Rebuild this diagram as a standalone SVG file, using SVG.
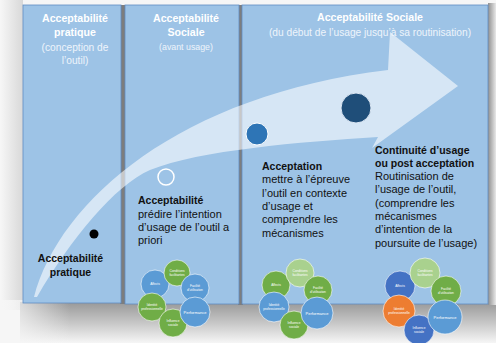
<svg xmlns="http://www.w3.org/2000/svg" width="496" height="343" viewBox="0 0 496 343">
<defs>
<linearGradient id="floor" x1="0" y1="0" x2="0" y2="1">
<stop offset="0" stop-color="#989898"/>
<stop offset="0.5" stop-color="#c6c6c6"/>
<stop offset="1" stop-color="#f6f6f6"/>
</linearGradient>
<linearGradient id="fadeL" x1="0" y1="0" x2="1" y2="0">
<stop offset="0" stop-color="#f6f6f6" stop-opacity="1"/>
<stop offset="1" stop-color="#f6f6f6" stop-opacity="0"/>
</linearGradient>
<linearGradient id="shR" x1="0" y1="0" x2="1" y2="0">
<stop offset="0" stop-color="#8f8f8f"/>
<stop offset="1" stop-color="#e8e8e8"/>
</linearGradient>
<linearGradient id="shL" x1="0" y1="0" x2="1" y2="0">
<stop offset="0" stop-color="#f7f7f7"/>
<stop offset="1" stop-color="#d8d8d8"/>
</linearGradient>
</defs>
<style>
.panel{fill:#9dc3e6;stroke:#5f8cc2;stroke-width:0.8}
.gap{fill:#7d7d7d}
.hd{font-family:"Liberation Sans",Arial,sans-serif;font-weight:bold;font-size:10.6px;fill:#ffffff;text-anchor:middle}
.sub{font-family:"Liberation Sans",Arial,sans-serif;font-size:10.2px;fill:#eef4fb;text-anchor:middle}
.b{font-family:"Liberation Sans",Arial,sans-serif;font-weight:bold;font-size:10.5px;fill:#111}
.t{font-family:"Liberation Sans",Arial,sans-serif;font-size:11px;fill:#111}
.c{stroke:#ffffff;stroke-width:0.6}
.g{fill:#70ad47}
.lg{fill:#a9d18e}
.bl{fill:#5b9bd5}
.db{fill:#4472c4}
.or{fill:#ed7d31}
.cl{font-family:"Liberation Sans",Arial,sans-serif;font-size:3.2px;fill:#ffffff;text-anchor:middle}
.cp{font-family:"Liberation Sans",Arial,sans-serif;font-size:4px;fill:#ffffff;text-anchor:middle}
</style>
<rect width="496" height="343" fill="#f6f6f6"/>
<rect x="0" y="0" width="23" height="310" fill="url(#shL)"/>
<rect x="20" y="302" width="476" height="41" fill="url(#floor)"/>
<rect x="0" y="300" width="70" height="43" fill="url(#fadeL)"/>
<rect x="488" y="3" width="8" height="302" fill="url(#shR)"/>
<g id="backdrop">
<rect class="gap" x="120" y="5" width="6" height="299"/>
<rect class="gap" x="238" y="5" width="5" height="300"/>
</g>
<g id="panel1"><rect class="panel" x="23" y="5" width="98" height="298"/></g>
<g id="panel2"><rect class="panel" x="125" y="5" width="114" height="299"/></g>
<g id="panel3"><rect class="panel" x="242" y="5" width="246" height="299"/></g>
<g id="connectors">
<path d="M34,297 C60,200 180,95 388,70 L390,32 L458,86 L372,148 L378,137 C300,142 200,150 150,170 C115,185 70,240 37,297 Z" fill="#ffffff" fill-opacity="0.58"/>
</g>
<g id="headers">
<text class="hd" x="75" y="22">Acceptabilité</text>
<text class="hd" x="75" y="36">pratique</text>
<text class="sub" x="75" y="51">(conception de</text>
<text class="sub" x="75" y="64">l’outil)</text>
<text class="hd" x="186" y="22">Acceptabilité</text>
<text class="hd" x="186" y="36">Sociale</text>
<text class="sub" x="186" y="50" style="font-size:8.8px">(avant usage)</text>
<text class="hd" x="370" y="21">Acceptabilité Sociale</text>
<text class="sub" x="370" y="35.5">(du début de l’usage jusqu’à sa routinisation)</text>
</g>
<g id="dot1"><circle cx="94" cy="234" r="4.5" fill="#000000"/></g>
<g id="dot2"><circle cx="166" cy="177" r="8" fill="#9dc3e6" stroke="#ffffff" stroke-width="1.5"/></g>
<g id="dot3"><circle cx="257" cy="134" r="11" fill="#2e75b6" stroke="#ffffff" stroke-width="1"/></g>
<g id="dot4"><circle cx="356" cy="108" r="15" fill="#1f4e79" stroke="#dbe6f3" stroke-width="1"/></g>
<g id="label1">
<text class="b" x="70.5" y="262" text-anchor="middle">Acceptabilité</text>
<text class="b" x="70.5" y="275.5" text-anchor="middle">pratique</text>
</g>
<g id="label2">
<text class="b" x="138" y="204">Acceptabilité</text>
<text class="t" x="138" y="217.5">prédire l’intention</text>
<text class="t" x="138" y="231">d’usage de l’outil a</text>
<text class="t" x="138" y="244">priori</text>
</g>
<g id="label3">
<text class="b" x="262" y="170">Acceptation</text>
<text class="t" x="262" y="183.3">mettre à l’épreuve</text>
<text class="t" x="262" y="196.7">l’outil en contexte</text>
<text class="t" x="262" y="210">d’usage et</text>
<text class="t" x="262" y="223.3">comprendre les</text>
<text class="t" x="262" y="236.7">mécanismes</text>
</g>
<g id="label4">
<text class="b" x="375" y="153.5">Continuité d’usage</text>
<text class="b" x="375" y="166.8">ou post acceptation</text>
<text class="t" x="375" y="180">Routinisation de</text>
<text class="t" x="375" y="193.3">l’usage de l’outil,</text>
<text class="t" x="375" y="206.7">(comprendre les</text>
<text class="t" x="375" y="220">mécanismes</text>
<text class="t" x="375" y="233.3">d’intention de la</text>
<text class="t" x="375" y="246.7">poursuite de l’usage)</text>
</g>
<g id="cluster1">
<circle class="c bl" cx="155" cy="284" r="14"/>
<circle class="c g" cx="177" cy="273" r="13"/>
<circle class="c bl" cx="195" cy="288" r="14"/>
<circle class="c g" cx="152" cy="307" r="14"/>
<circle class="c g" cx="173" cy="323" r="14"/>
<circle class="c bl" cx="195" cy="312" r="15"/>
<text class="cl" x="155" y="285">Affects</text>
<text class="cl" x="177" y="272">Conditions</text><text class="cl" x="177" y="276">facilitantes</text>
<text class="cl" x="195" y="287">Facilité</text><text class="cl" x="195" y="291">d’utilisation</text>
<text class="cl" x="152" y="306">Identité</text><text class="cl" x="152" y="310">professionnelle</text>
<text class="cl" x="173" y="322">Influence</text><text class="cl" x="173" y="326">sociale</text>
<text class="cp" x="195" y="313.5">Performance</text>
</g>
<g id="cluster2">
<circle class="c g" cx="276" cy="285" r="14"/>
<circle class="c lg" cx="300" cy="273" r="14"/>
<circle class="c g" cx="318" cy="290" r="14"/>
<circle class="c bl" cx="274" cy="307" r="15"/>
<circle class="c g" cx="294" cy="325" r="14"/>
<circle class="c bl" cx="317" cy="313" r="16"/>
<text class="cl" x="276" y="286">Affects</text>
<text class="cl" x="300" y="272">Conditions</text><text class="cl" x="300" y="276">facilitantes</text>
<text class="cl" x="318" y="289">Facilité</text><text class="cl" x="318" y="293">d’utilisation</text>
<text class="cl" x="274" y="306">Identité</text><text class="cl" x="274" y="310">professionnelle</text>
<text class="cl" x="294" y="324">Influence</text><text class="cl" x="294" y="328">sociale</text>
<text class="cp" x="317" y="314.5">Performance</text>
</g>
<g id="cluster3">
<circle class="c db" cx="400" cy="286" r="15"/>
<circle class="c lg" cx="425" cy="273" r="15"/>
<circle class="c g" cx="446" cy="291" r="15"/>
<circle class="c or" cx="399" cy="311" r="16"/>
<circle class="c db" cx="419" cy="330" r="15"/>
<circle class="c bl" cx="445" cy="317" r="17"/>
<text class="cl" x="400" y="287">Affects</text>
<text class="cl" x="425" y="272">Conditions</text><text class="cl" x="425" y="276">facilitantes</text>
<text class="cl" x="446" y="290">Facilité</text><text class="cl" x="446" y="294">d’utilisation</text>
<text class="cl" x="399" y="310">Identité</text><text class="cl" x="399" y="314">professionnelle</text>
<text class="cl" x="419" y="329">Influence</text><text class="cl" x="419" y="333">sociale</text>
<text class="cp" x="445" y="318.5">Performance</text>
</g>
</svg>
